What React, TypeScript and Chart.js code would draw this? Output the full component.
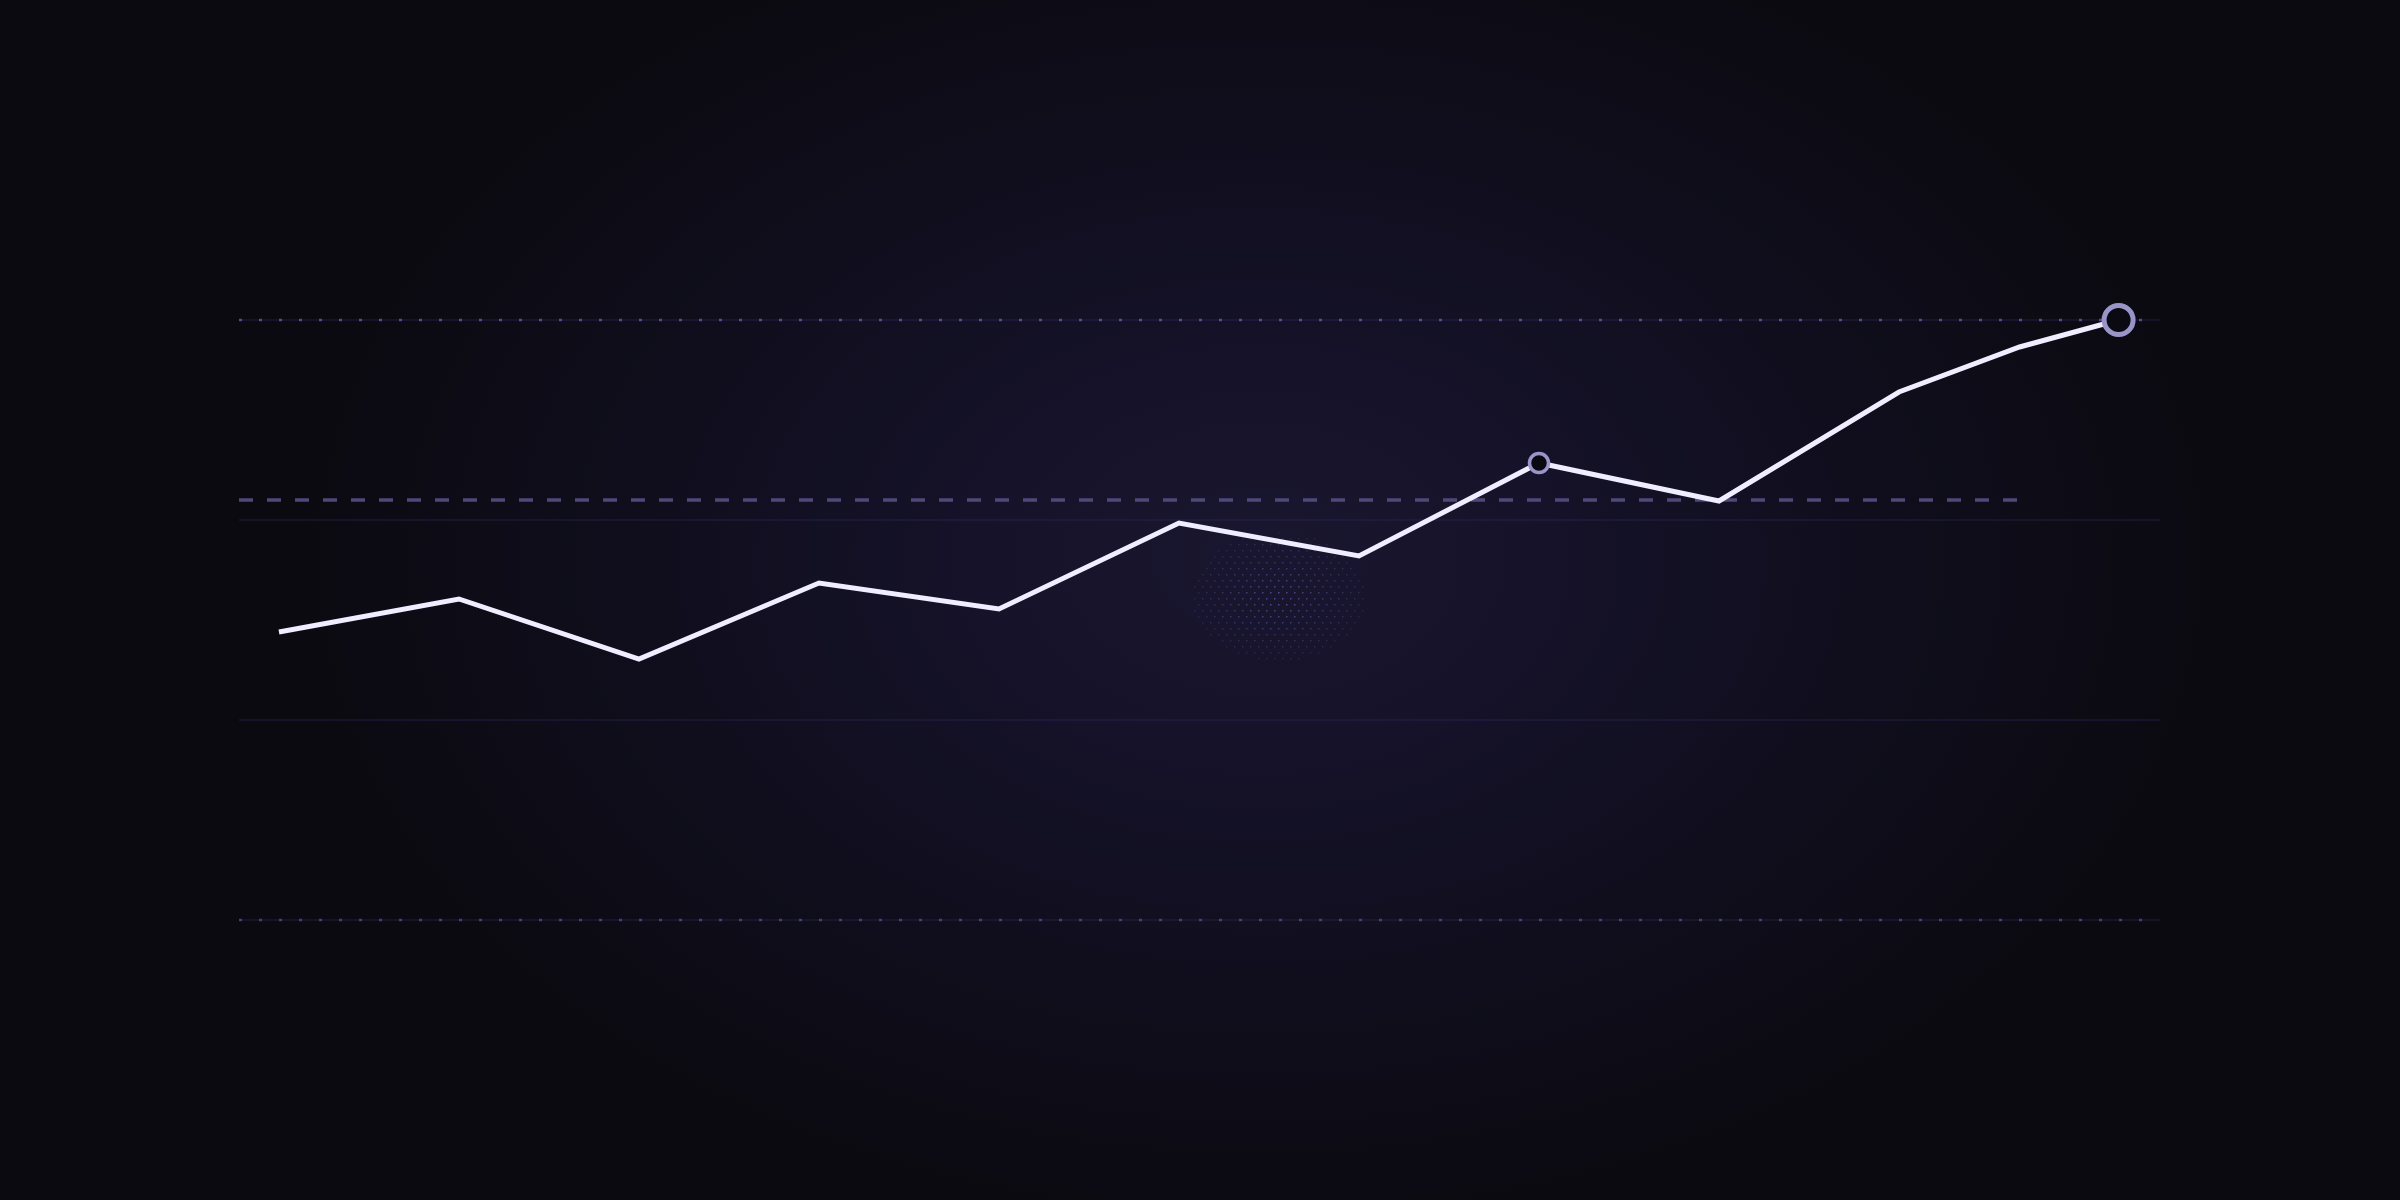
import React, { useEffect, useRef } from "react";
import { Chart, registerables } from "chart.js";

Chart.register(...registerables);

// ---- data ----
const xPositions = [0, 1, 2, 3, 4, 5, 6, 7, 8, 9, 9.67, 10.22];
const values = [144, 160.5, 130.5, 168.5, 155.5, 198.5, 182, 228.5, 209.5, 264, 286.5, 300];
const targetValue = 210;
const dottedGridValues = [0, 300];
const solidGridValues = [100, 200];
const xMin = -0.222;
const xMax = 10.45;
const yMin = 0;
const yMax = 300;

const guidesPlugin = {
  id: "guides",
  beforeDatasetsDraw(chart: any) {
    const { ctx, chartArea, scales } = chart;
    const xs = scales.x;
    const ys = scales.y;
    const left = chartArea.left;
    const right = chartArea.right;
    ctx.save();
    // faint solid grid lines
    [...solidGridValues, ...dottedGridValues].forEach((v) => {
      const y = Math.round(ys.getPixelForValue(v));
      ctx.beginPath();
      ctx.strokeStyle = "rgba(50, 44, 105, 0.28)";
      ctx.lineWidth = 2;
      ctx.moveTo(left, y);
      ctx.lineTo(right, y);
      ctx.stroke();
    });
    // dotted lines
    dottedGridValues.forEach((v) => {
      const y = Math.round(ys.getPixelForValue(v));
      ctx.beginPath();
      ctx.setLineDash([3, 17]);
      ctx.strokeStyle = v === yMax ? "rgba(100, 92, 165, 0.8)" : "rgba(95, 88, 160, 0.65)";
      ctx.lineWidth = 2.5;
      ctx.moveTo(left, y);
      ctx.lineTo(right - 14, y);
      ctx.stroke();
    });
    // dashed target line, up to the penultimate point
    const yT = Math.round(ys.getPixelForValue(targetValue));
    ctx.beginPath();
    ctx.setLineDash([14, 14]);
    ctx.strokeStyle = "#4f4879";
    ctx.lineWidth = 3.5;
    ctx.moveTo(left, yT);
    ctx.lineTo(xs.getPixelForValue(xPositions[10]), yT);
    ctx.stroke();
    ctx.setLineDash([]);
    // faint halftone cluster under the curve
    const cx = xs.getPixelForValue(5.55);
    const cy = ys.getPixelForValue(162);
    const rx = 88;
    const ry = 64;
    ctx.fillStyle = "rgba(105, 95, 185, 1)";
    for (let gy = -ry; gy <= ry; gy += 6) {
      const row = Math.round((gy + ry) / 6);
      for (let gx = -rx; gx <= rx; gx += 8) {
        const ox = row % 2 === 0 ? 0 : 4;
        const px = gx + ox;
        const d = Math.sqrt((px / rx) ** 2 + (gy / ry) ** 2);
        if (d > 1) continue;
        ctx.globalAlpha = 0.75 * (1 - d * 0.75);
        ctx.fillRect(Math.round(cx + px), Math.round(cy + gy), 1.5, 1.5);
      }
    }
    ctx.globalAlpha = 1;
    ctx.restore();
  },
};

export default function App() {
  const canvasRef = useRef<HTMLCanvasElement | null>(null);

  useEffect(() => {
    document.body.style.margin = "0";
    const canvas = canvasRef.current;
    if (!canvas) return;
    const data = xPositions.map((x, i) => ({ x, y: values[i] }));
    const chart = new Chart(canvas, {
      type: "line",
      data: {
        datasets: [
          {
            data,
            borderColor: "#efedff",
            borderWidth: 5,
            tension: 0,
            fill: false,
            clip: false,
            borderJoinStyle: "miter",
            borderCapStyle: "butt",
            pointRadius: values.map((_, i) => (i === 11 ? 14.5 : i === 7 ? 9.5 : 0)),
            pointBorderWidth: values.map((_, i) => (i === 11 ? 5 : 3.5)),
            pointBackgroundColor: "#0b0a12",
            pointBorderColor: "#9a95c8",
            pointHoverRadius: 0,
          } as any,
        ],
      },
      options: {
        responsive: false,
        devicePixelRatio: 1,
        animation: false,
        events: [],
        layout: { padding: { left: 239, right: 240, top: 320, bottom: 280 } },
        plugins: { legend: { display: false }, tooltip: { enabled: false } },
        scales: {
          x: { type: "linear", min: xMin, max: xMax, display: false },
          y: { type: "linear", min: yMin, max: yMax, display: false },
        },
      },
      plugins: [guidesPlugin],
    });
    return () => chart.destroy();
  }, []);

  return (
    <div
      style={{
        position: "absolute",
        left: 0,
        top: 0,
        width: 2400,
        height: 1200,
        background:
          "radial-gradient(ellipse 980px 680px at 1260px 560px, #19162f 0%, #151229 30%, #100e1d 62%, #0b0a10 100%), #0a0a0d",
      }}
    >
      <canvas ref={canvasRef} width={2400} height={1200} style={{ display: "block" }} />
    </div>
  );
}
